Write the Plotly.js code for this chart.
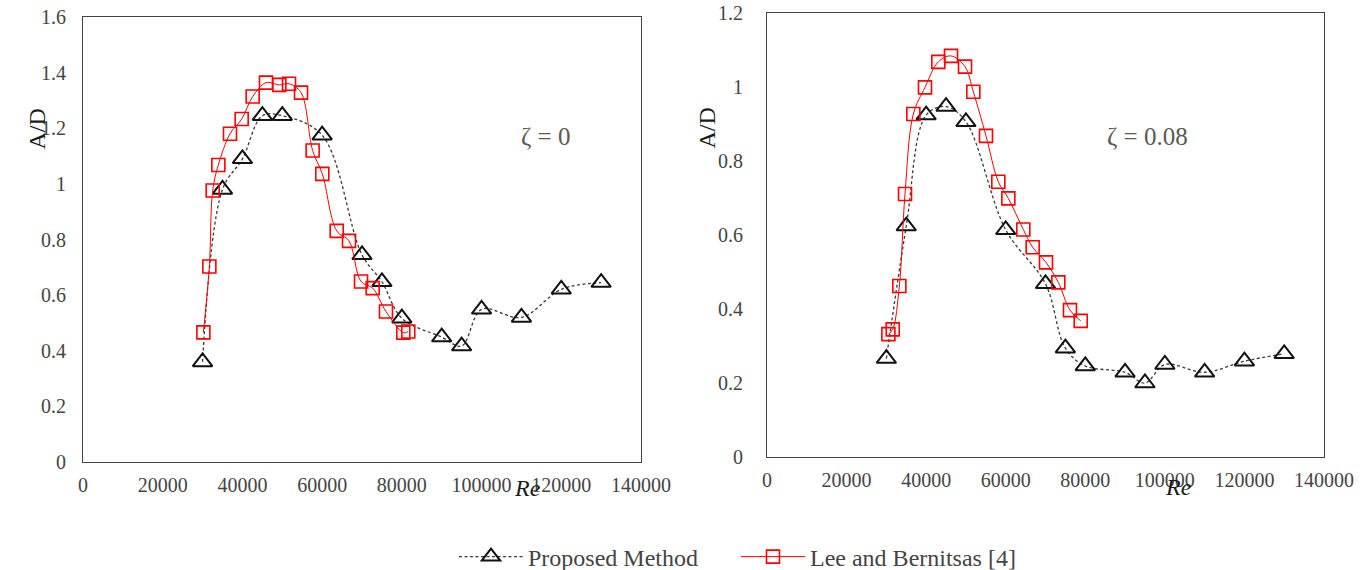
<!DOCTYPE html>
<html>
<head>
<meta charset="utf-8">
<script src="https://cdn.plot.ly/plotly-3.0.1.min.js"></script>
<style>html,body{margin:0;padding:0;background:#fff;}#chart{width:1364px;height:570px;}</style>
</head>
<body>
<div id="chart"></div>
<script>
// ---- Data ----
// zeta = 0
const propRe0 = [30000, 35000, 40000, 45000, 50000, 60000, 70000, 75000, 80000, 90000, 95000, 100000, 110000, 120000, 130000];
const propAD0 = [0.36, 0.98, 1.09, 1.245, 1.245, 1.175, 0.745, 0.648, 0.517, 0.449, 0.417, 0.549, 0.52, 0.621, 0.645];
const leeRe0 = [30200, 31700, 32540, 33960, 36880, 39810, 42570, 45910, 49260, 51690, 54700, 57610, 60040, 63650, 66740, 69750, 72680, 76020, 80360, 81610];
const leeAD0 = [0.466, 0.703, 0.976, 1.068, 1.18, 1.233, 1.314, 1.364, 1.356, 1.36, 1.328, 1.12, 1.036, 0.831, 0.795, 0.649, 0.625, 0.541, 0.465, 0.469];
// zeta = 0.08
const propRe8 = [30000, 35000, 40000, 45000, 50000, 60000, 70000, 75000, 80000, 90000, 95000, 100000, 110000, 120000, 130000];
const propAD8 = [0.266, 0.624, 0.924, 0.947, 0.906, 0.614, 0.468, 0.294, 0.246, 0.229, 0.2, 0.25, 0.229, 0.259, 0.279];
const leeRe8 = [30510, 31600, 33260, 34690, 36780, 39710, 43060, 46250, 49770, 51860, 55040, 58140, 60660, 64420, 66770, 70120, 73220, 76150, 78850];
const leeAD8 = [0.332, 0.345, 0.462, 0.711, 0.927, 0.999, 1.068, 1.084, 1.055, 0.987, 0.868, 0.744, 0.699, 0.615, 0.567, 0.526, 0.472, 0.397, 0.368];

const seriesNames = ['Proposed Method', 'Lee and Bernitsas [4]'];
const panelLabels = ['\u03B6 = 0', '\u03B6 = 0.08'];
const xTitle = 'Re';
const yTitle = 'A/D';

const W = 1364, H = 570;
const FAMILY = 'Times New Roman';
function clone(o) { return JSON.parse(JSON.stringify(o)); }

const propStyle = {
  mode: 'lines+markers',
  line: {color: '#3a3a3a', width: 1.3, dash: '3px,2.5px', shape: 'spline', smoothing: 1},
  marker: {symbol: 'triangle-up-open', size: 17, color: '#111', line: {color: '#111', width: 2}}
};
const leeStyle = {
  mode: 'lines+markers',
  line: {color: '#ff0000', width: 1, shape: 'spline', smoothing: 1},
  marker: {symbol: 'square-open', size: 13, color: '#ff0000', line: {color: '#ff0000', width: 1.6}}
};

const traces = [
  Object.assign({x: propRe0, y: propAD0, xaxis: 'x', yaxis: 'y', name: seriesNames[0], legend: 'legend'}, clone(propStyle)),
  Object.assign({x: leeRe0, y: leeAD0, xaxis: 'x', yaxis: 'y', name: seriesNames[1], legend: 'legend2'}, clone(leeStyle)),
  Object.assign({x: propRe8, y: propAD8, xaxis: 'x2', yaxis: 'y2', showlegend: false}, clone(propStyle)),
  Object.assign({x: leeRe8, y: leeAD8, xaxis: 'x2', yaxis: 'y2', showlegend: false}, clone(leeStyle))
];

function px(x) { return x / W; }
function py(y) { return (H - y) / H; }

function xAxis(l, r, anchor) {
  return {
    domain: [px(l), px(r)], anchor: anchor, range: [0, 140000], dtick: 20000,
    tickformat: 'd', showline: true, mirror: true, showgrid: false, zeroline: false,
    ticks: 'outside', ticklen: 5, tickcolor: 'rgba(0,0,0,0)',
    tickfont: {family: FAMILY, size: 20}
  };
}
function yAxis(t, b, anchor, maxv, gap) {
  return {
    domain: [py(b), py(t)], anchor: anchor, range: [0, maxv], dtick: 0.2,
    showline: true, mirror: true, showgrid: false, zeroline: false,
    ticks: 'outside', ticklen: gap, tickcolor: 'rgba(0,0,0,0)',
    tickfont: {family: FAMILY, size: 20}
  };
}

const layout = {
  width: W, height: H,
  margin: {l: 0, r: 0, t: 0, b: 0, autoexpand: false},
  xaxis: xAxis(83, 641, 'y'),
  yaxis: yAxis(17, 462, 'x', 1.6, 12),
  xaxis2: xAxis(767, 1324, 'y2'),
  yaxis2: yAxis(13, 457, 'x2', 1.2, 19),
  legend: {orientation: 'h', x: px(454), xanchor: 'left', y: py(557), yanchor: 'middle', font: {family: FAMILY, size: 24}, itemwidth: 64},
  legend2: {orientation: 'h', x: px(736), xanchor: 'left', y: py(557), yanchor: 'middle', font: {family: FAMILY, size: 24}, itemwidth: 64},
  annotations: [
    {xref: 'paper', yref: 'paper', x: px(21), y: py(107), text: yTitle, textangle: -90, showarrow: false, font: {family: FAMILY, size: 24, color: '#1a1a1a'}},
    {xref: 'paper', yref: 'paper', x: px(706), y: py(106), text: yTitle, textangle: -90, showarrow: false, font: {family: FAMILY, size: 24, color: '#1a1a1a'}},
    {xref: 'paper', yref: 'paper', x: px(527), y: py(503), text: '<i>' + xTitle + '</i>', showarrow: false, font: {family: FAMILY, size: 24, color: '#1a1a1a'}},
    {xref: 'paper', yref: 'paper', x: px(1194), y: py(502), text: '<i>' + xTitle + '</i>', showarrow: false, font: {family: FAMILY, size: 24, color: '#1a1a1a'}},
    {xref: 'paper', yref: 'paper', x: px(545), y: py(121), text: panelLabels[0], showarrow: false, font: {family: FAMILY, size: 25, color: '#5a5a4e'}},
    {xref: 'paper', yref: 'paper', x: px(1190), y: py(121), text: panelLabels[1], showarrow: false, font: {family: FAMILY, size: 25, color: '#5a5a4e'}}
  ]
};

Plotly.newPlot('chart', traces, layout, {displayModeBar: false, staticPlot: true});
</script>
</body>
</html>
